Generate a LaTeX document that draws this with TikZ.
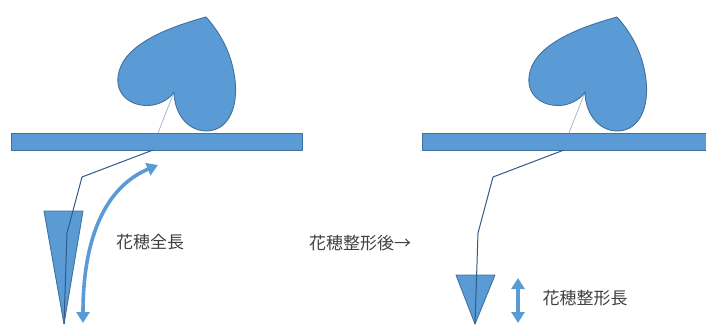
\documentclass[tikz,border=0pt]{standalone}
\usepackage{fontspec}
\newfontfamily\jpfont{Noto Sans CJK JP}
\usetikzlibrary{arrows.meta}
\definecolor{fillblue}{HTML}{5B9BD5}
\definecolor{edgeblue}{HTML}{41719C}
\definecolor{stemblue}{HTML}{2F5A8C}
\definecolor{pedicel}{HTML}{A3B8CF}
\definecolor{labelgray}{HTML}{404040}

\tikzset{
  shoot/.style={fill=fillblue, draw=edgeblue, line width=0.9pt, line join=round},
  stemline/.style={draw=stemblue, line width=1pt, line join=round},
  thinstalk/.style={draw=pedicel, line width=0.8pt},
  measure/.style={draw=fillblue, line width=3.6pt,
    {Triangle[length=11pt,width=13pt]}-{Triangle[length=11pt,width=13pt]}},
  caption/.style={font=\jpfont\fontsize{17}{20}\selectfont, text=labelgray, inner sep=0pt},
  % cane bar with a leaf on top and the bent shoot hanging below
  branch/.pic={
    \coordinate (-notch) at (174,92);
    \coordinate (-base) at (158,133);
    \coordinate (-knot) at (153,150);
    \coordinate (-bend) at (82,177);
    \coordinate (-kink) at (67,233);
    \fill[shoot] (11,133) rectangle (302,150);
    \draw[thinstalk] (-notch) -- (-base);
    \filldraw[shoot] (206,17)
      .. controls (162,29) and (121,47) .. (118,77)
      .. controls (116,97) and (134,108) .. (153,105)
      .. controls (163,103) and (170,98) .. (-notch)
      .. controls (174,110) and (185,131) .. (207,131)
      .. controls (230,130) and (238,105) .. (235,80)
      .. controls (232,55) and (222,35) .. cycle;
  }
}

\begin{document}
\begin{tikzpicture}[x=1pt, y=-1pt]
  \clip (0,0) rectangle (706,325);

  % before trimming: full-length cluster
  \pic (L) at (0,0) {branch};
  \coordinate (tipL) at (64,324);
  \fill[shoot] (44,211) -- (83,211) -- (tipL) -- cycle;
  \draw[stemline] (L-knot) -- (L-bend) -- (L-kink) -- (tipL);
  \coordinate (arrL1) at (83,323);
  \coordinate (arrL2) at (158,165);
  \draw[measure] (arrL1) .. controls (83,230) and (110,185) .. (arrL2);
  \node[caption] (fullLen) at (150,242) {花穂全長};

  % after trimming: shortened cluster
  \pic (R) at (411,0) {branch};
  \coordinate (tipR) at (475,324);
  \fill[shoot] (456,275) -- (495,275) -- (tipR) -- cycle;
  \draw[stemline] (R-knot) -- (R-bend) -- (R-kink) -- (tipR);
  \coordinate (arrR1) at (518,278);
  \coordinate (arrR2) at (518,323);
  \draw[measure] (arrR1) -- (arrR2);
  \node[caption] (afterTrim) at (360,243) {花穂整形後→};
  \node[caption] (trimLen) at (585,298) {花穂整形長};
\end{tikzpicture}
\end{document}
